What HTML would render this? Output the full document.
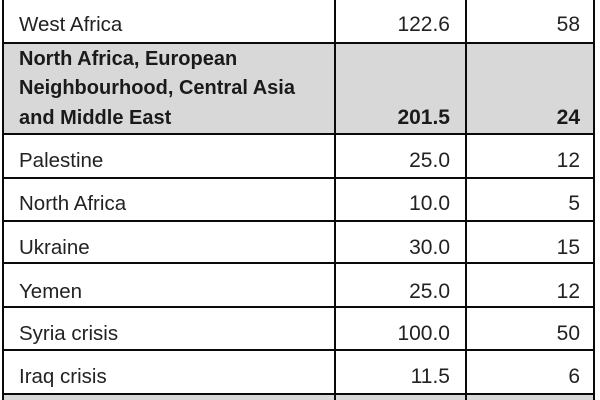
<!DOCTYPE html>
<html>
<head>
<meta charset="utf-8">
<style>
  html, body { margin:0; padding:0; }
  body { width:600px; height:400px; position:relative; overflow:hidden; background:#fff;
         font-family:"Liberation Sans", Arial, sans-serif; color:#222; }
  .g { position:absolute; background:#d8d8d8; }
  .h { position:absolute; left:2px; width:593px; height:2px; background:#0a0a0a; }
  .v { position:absolute; top:0; width:2px; height:400px; background:#0a0a0a; }
  .t { position:absolute; line-height:20px; white-space:nowrap; }
  .l { left:19px; font-size:20.5px; }
  .b { font-weight:bold; font-size:20px; color:#1a1a1a; }
  .n1 { right:150px; text-align:right; font-size:21px; }
  .n2 { right:20px; text-align:right; font-size:21px; }
</style>
</head>
<body>
  <!-- gray fills -->
  <div class="g" style="left:3px; top:43px; width:591px; height:91px;"></div>
  <div class="g" style="left:3px; top:395px; width:591px; height:5px;"></div>

  <!-- horizontal lines -->
  <div class="h" style="top:42px;"></div>
  <div class="h" style="top:133px;"></div>
  <div class="h" style="top:177px;"></div>
  <div class="h" style="top:220px;"></div>
  <div class="h" style="top:262px;"></div>
  <div class="h" style="top:306px;"></div>
  <div class="h" style="top:349px;"></div>
  <div class="h" style="top:393px;"></div>

  <!-- vertical lines -->
  <div class="v" style="left:2px;"></div>
  <div class="v" style="left:334px;"></div>
  <div class="v" style="left:465px;"></div>
  <div class="v" style="left:593px;"></div>

  <!-- row: West Africa -->
  <div class="t l" style="top:15px;">West Africa</div>
  <div class="t n1" style="top:15px;">122.6</div>
  <div class="t n2" style="top:15px;">58</div>

  <!-- bold group row -->
  <div class="t l b" style="top:49px;">North Africa, European</div>
  <div class="t l b" style="top:78px;">Neighbourhood, Central Asia</div>
  <div class="t l b" style="top:108px;">and Middle East</div>
  <div class="t n1 b" style="top:108px; font-size:21px;">201.5</div>
  <div class="t n2 b" style="top:108px; font-size:21px;">24</div>

  <div class="t l" style="top:151px;">Palestine</div>
  <div class="t n1" style="top:151px;">25.0</div>
  <div class="t n2" style="top:151px;">12</div>

  <div class="t l" style="top:194px;">North Africa</div>
  <div class="t n1" style="top:194px;">10.0</div>
  <div class="t n2" style="top:194px;">5</div>

  <div class="t l" style="top:238px;">Ukraine</div>
  <div class="t n1" style="top:238px;">30.0</div>
  <div class="t n2" style="top:238px;">15</div>

  <div class="t l" style="top:282px;">Yemen</div>
  <div class="t n1" style="top:282px;">25.0</div>
  <div class="t n2" style="top:282px;">12</div>

  <div class="t l" style="top:324px;">Syria crisis</div>
  <div class="t n1" style="top:324px;">100.0</div>
  <div class="t n2" style="top:324px;">50</div>

  <div class="t l" style="top:367px;">Iraq crisis</div>
  <div class="t n1" style="top:367px;">11.5</div>
  <div class="t n2" style="top:367px;">6</div>
</body>
</html>
